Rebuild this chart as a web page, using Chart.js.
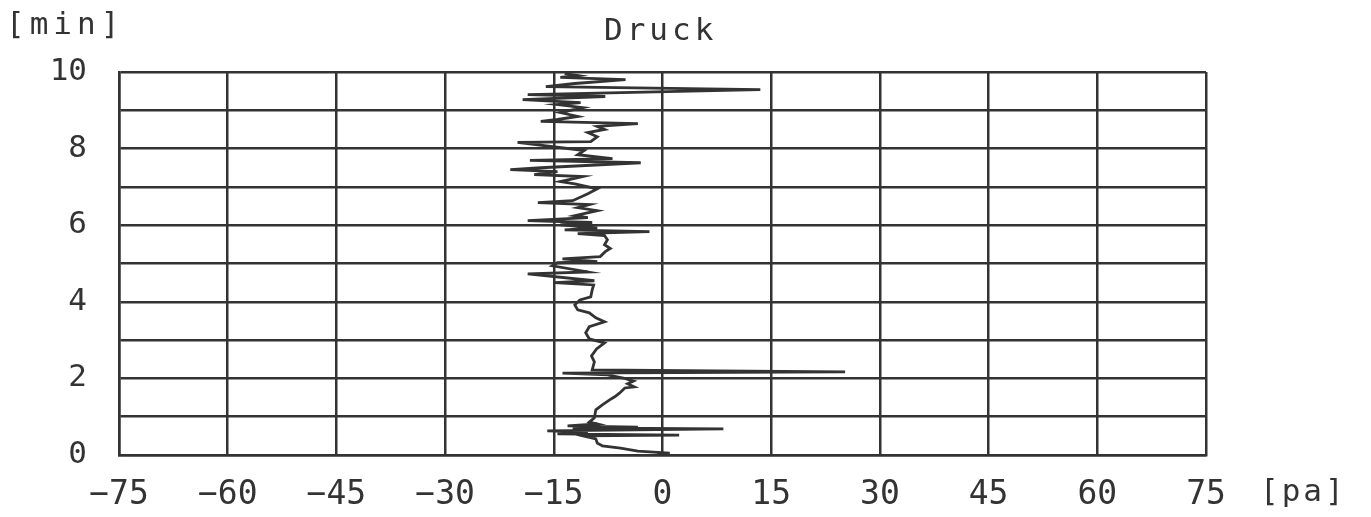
<!DOCTYPE html>
<html>
<head>
<meta charset="utf-8">
<script src="https://cdn.jsdelivr.net/npm/chart.js@4/dist/chart.umd.min.js"></script>
<style>
  body { margin: 0; background: #fff; }
  #wrap { width: 1371px; height: 517px; }
</style>
</head>
<body>
<div id="wrap"><canvas id="druckChart" width="1371" height="517"></canvas></div>
<script>
const pressure = [
  0.7, -0.7, 1.0, -3.4, -5.8, -8.3, -9.0, -9.2, -11.0, 2.3,
  -14.5, -10.3, -15.9, 8.4, -12.4, -3.4, -13.1, -9.0, -10.1, -9.4,
  -9.2, -8.3, -7.3, -6.6, -5.9, -5.2, -3.9, -4.8, -4.0, -5.4,
  -7.6, -13.8, 25.2, -9.7, -9.4, -9.8, -9.1, -8.0, -10.1, -10.6,
  -10.1, -8.0, -9.2, -10.1, -11.7, -12.1, -11.4, -9.9, -9.7, -9.5,
  -14.9, -9.4, -18.6, -10.3, -15.2, -14.5, -9.0, -13.8, -8.6, -7.9,
  -7.2, -8.0, -7.6, -8.0, -11.7, -1.8, -13.5, -9.0, -14.1, -9.7,
  -18.6, -10.3, -12.1, -9.0, -11.7, -10.1, -17.2, -12.4, -10.3, -9.0,
  -12.1, -14.1, -11.0, -17.7, -14.5, -21.0, -16.8, -3.0, -18.3, -6.9,
  -11.7, -10.8, -20.0, -9.9, -9.0, -10.3, -8.0, -9.0, -3.4, -16.8,
  -14.5, -11.7, -14.1, -11.0, -14.5, -11.3, -19.3, -7.9, -18.6, 13.5,
  -16.1, -12.1, -5.1, -14.1, -11.7, -13.5
];
const minutes = [
  0.00, 0.03, 0.05, 0.10, 0.18, 0.24, 0.31, 0.42, 0.50, 0.52,
  0.55, 0.60, 0.63, 0.68, 0.71, 0.73, 0.76, 0.81, 0.86, 0.97,
  1.18, 1.31, 1.44, 1.52, 1.62, 1.75, 1.78, 1.86, 1.93, 2.01,
  2.09, 2.14, 2.17, 2.22, 2.43, 2.59, 2.77, 2.93, 3.03, 3.19,
  3.35, 3.48, 3.58, 3.71, 3.79, 3.92, 4.05, 4.13, 4.31, 4.44,
  4.50, 4.55, 4.73, 4.78, 4.94, 5.02, 5.05, 5.12, 5.18, 5.31,
  5.39, 5.49, 5.62, 5.73, 5.78, 5.83, 5.88, 5.93, 6.01, 6.07,
  6.12, 6.20, 6.25, 6.38, 6.46, 6.54, 6.59, 6.64, 6.82, 6.95,
  7.08, 7.14, 7.27, 7.32, 7.40, 7.45, 7.50, 7.63, 7.69, 7.74,
  7.84, 7.95, 8.16, 8.18, 8.31, 8.42, 8.50, 8.58, 8.65, 8.71,
  8.76, 8.84, 8.94, 9.07, 9.15, 9.20, 9.28, 9.36, 9.41, 9.54,
  9.62, 9.70, 9.80, 9.86, 9.91, 9.96
];
const xTicks = [-75, -60, -45, -30, -15, 0, 15, 30, 45, 60, 75];
const yTickLabels = [0, 2, 4, 6, 8, 10];
const title = 'Druck';
const yUnit = '[min]';
const xUnit = '[pa]';

const ink = '#333333';
const monoFont = '"DejaVu Sans Mono", "Liberation Mono", monospace';

const extraText = {
  id: 'extraText',
  afterDraw(chart) {
    const c = chart.ctx;
    const area = chart.chartArea;
    c.save();
    c.fillStyle = ink;
    c.textBaseline = 'middle';
    c.textAlign = 'left';
    c.font = '31px ' + monoFont;
    c.letterSpacing = '4px';
    c.fillText(title, 604, 32);
    c.letterSpacing = '5px';
    c.fillText(yUnit, 6, 26);
    c.letterSpacing = '3px';
    c.fillText(xUnit, 1260, 493);
    c.restore();
  }
};

const ctx = document.getElementById('druckChart').getContext('2d');
new Chart(ctx, {
  type: 'scatter',
  data: {
    datasets: [{
      label: title,
      data: pressure.map((p, i) => ({ x: p, y: minutes[i] })),
      showLine: true,
      borderColor: ink,
      borderWidth: 2.8,
      pointRadius: 0,
      tension: 0
    }]
  },
  options: {
    responsive: false,
    animation: false,
    layout: { padding: { top: 72, right: 165, left: 0, bottom: 0 } },
    plugins: { legend: { display: false }, tooltip: { enabled: false } },
    scales: {
      x: {
        min: -75, max: 75,
        afterBuildTicks: s => { s.ticks = xTicks.map(v => ({ value: v })); },
        afterFit: s => { s.height = 62; },
        grid: { color: ink, lineWidth: 2.5, drawTicks: false },
        border: { color: ink, width: 2.5 },
        ticks: {
          padding: 21,
          autoSkip: false,
          maxRotation: 0,
          color: ink,
          font: { family: monoFont, size: 33 },
          callback: v => (v < 0 ? '\u2212' + Math.abs(v) : String(v))
        }
      },
      y: {
        min: 0, max: 10,
        ticks: {
          stepSize: 1,
          autoSkip: false,
          padding: 32,
          color: ink,
          font: { family: monoFont, size: 31 },
          callback: v => (yTickLabels.includes(v) ? String(v) : '')
        },
        afterFit: s => { s.width = 119; },
        grid: { color: ink, lineWidth: 2.5, drawTicks: false },
        border: { color: ink, width: 2.5 }
      }
    }
  },
  plugins: [extraText]
});
</script>
</body>
</html>
